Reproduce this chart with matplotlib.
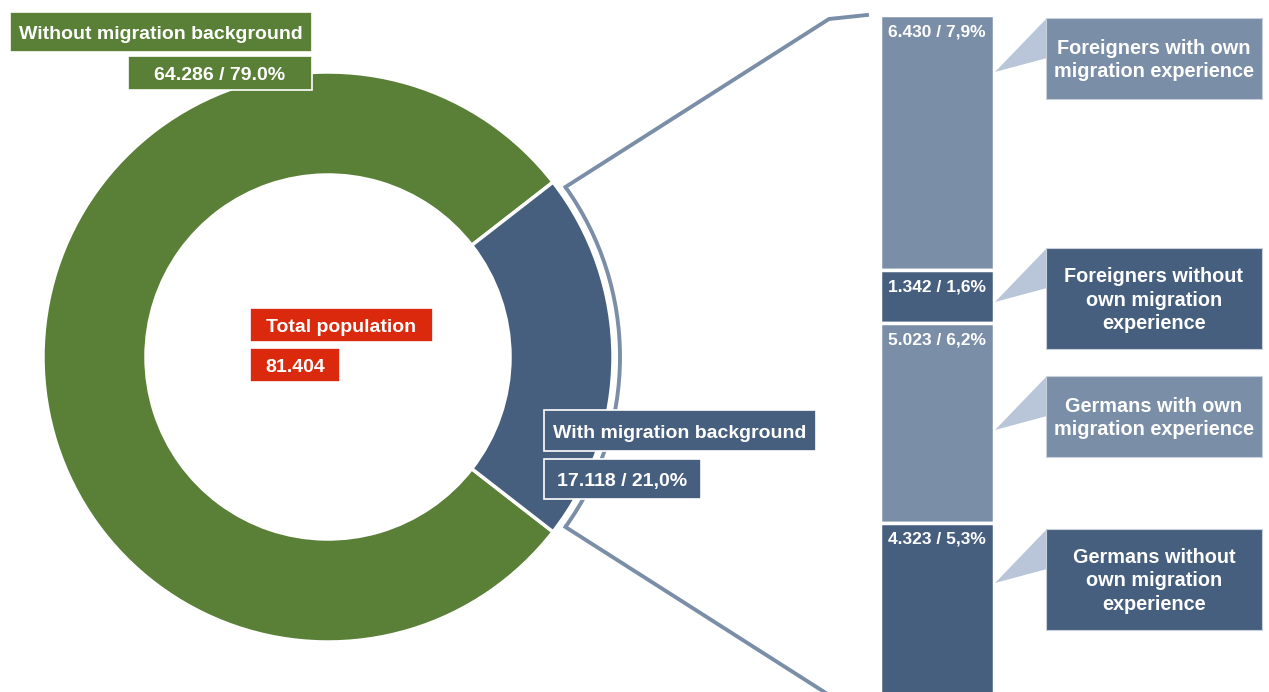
import numpy as np
import matplotlib.pyplot as plt
from matplotlib.patches import Rectangle, Polygon, Arc

plt.rcParams.update({
    "font.family": ["Liberation Sans", "DejaVu Sans"],
    "font.weight": "bold",
})

# data (thousands)
total_population = 81404
donut_labels = ["Without migration background", "With migration background"]
donut_values = [64286, 17118]
donut_shares = ["79.0%", "21,0%"]

bar_labels = ["Foreigners with own\nmigration experience",
              "Foreigners without\nown migration\nexperience",
              "Germans with own\nmigration experience",
              "Germans without\nown migration\nexperience"]
bar_values = [6430, 1342, 5023, 4323]
bar_shares = ["7,9%", "1,6%", "6,2%", "5,3%"]

GREEN = "#5a8038"
DARK = "#475f7f"
LIGHT = "#7b8ea8"
POINTER = "#b9c6da"
RED = "#da290c"
bar_colors = [LIGHT, DARK, LIGHT, DARK]

W, H = 1269, 692
fig = plt.figure(figsize=(W / 100, H / 100), dpi=100)
ax = fig.add_axes([0, 0, 1, 1])

# donut, blue wedge centred on the right
cx, cy, R = 328, 357, 285
start = 180 * donut_values[1] / sum(donut_values)
ax.pie(donut_values, colors=[GREEN, DARK], center=(cx, cy), radius=R,
       startangle=start, counterclock=True,
       wedgeprops=dict(width=103, edgecolor="white", linewidth=2.5))
ax.set_xlim(0, W)
ax.set_ylim(H, 0)
ax.set_aspect("equal")
ax.axis("off")

# bracket from the blue wedge to the bar
rb = 292
ang = 35.6
ax.add_patch(Arc((cx, cy), 2 * rb, 2 * rb, theta1=-ang, theta2=ang,
                 color=LIGHT, lw=2.8, zorder=3))
tx = cx + rb * np.cos(np.radians(ang))
ty = rb * np.sin(np.radians(ang))
ax.plot([tx, 829, 867], [cy - ty, 19, 15], color=LIGHT, lw=2.8,
        solid_joinstyle="miter", zorder=3)
ax.plot([tx, 829, 867], [cy + ty, 695, 697], color=LIGHT, lw=2.8,
        solid_joinstyle="miter", zorder=3)


def label_box(x0, y0, x1, y1, text, color, size=14):
    ax.add_patch(Rectangle((x0, y0), x1 - x0, y1 - y0, facecolor=color,
                           edgecolor="white", lw=1.2, zorder=5))
    ax.text((x0 + x1) / 2, (y0 + y1) / 2 + 2.5, text, color="white",
            fontsize=size, fontweight="bold", ha="center", va="center",
            zorder=6)


label_box(10, 12, 312, 52, donut_labels[0], GREEN)
label_box(128, 56, 312, 90, f"{donut_values[0] / 1000:.3f} / {donut_shares[0]}", GREEN)
label_box(250, 308, 433, 342, "Total population", RED)
label_box(250, 348, 340, 382, f"{total_population / 1000:.3f}", RED)
label_box(544, 410, 816, 451, donut_labels[1], DARK)
label_box(544, 459, 701, 499, f"{donut_values[1] / 1000:.3f} / {donut_shares[1]}", DARK)

# stacked bar on its own axes
bax = fig.add_axes([880 / W, 1 - 694 / H, 114 / W, 679 / H])
bottoms = np.concatenate([[0], np.cumsum(bar_values)[:-1]])
bax.bar(0, bar_values, bottom=bottoms, width=1, color=bar_colors,
        edgecolor="white", linewidth=2.5)
bax.set_xlim(-0.5, 0.5)
bax.set_ylim(sum(bar_values), 0)
bax.axis("off")
for b, v, s in zip(bottoms, bar_values, bar_shares):
    bax.annotate(f"{v / 1000:.3f} / {s}", xy=(0, b), xytext=(0, -6.5),
                 textcoords="offset points", ha="center", va="top",
                 color="white", fontsize=12.5, fontweight="bold")

# callout boxes with pointers
boxes = [(18, 99), (248, 349), (376, 457), (529, 630)]
tips = [72, 302, 430, 583]
for (y0, y1), tip, txt, col in zip(boxes, tips, bar_labels, bar_colors):
    ax.add_patch(Polygon([(1047, y0), (1047, y0 + 40), (995, tip)],
                         closed=True, facecolor=POINTER, edgecolor="none",
                         zorder=4))
    ax.add_patch(Rectangle((1046, y0), 216, y1 - y0, facecolor=col,
                           edgecolor="#c8d0dc", lw=0.8, zorder=5))
    ax.text(1154, (y0 + y1) / 2 + 1.5, txt, color="white", fontsize=14.3,
            fontweight="bold", ha="center", va="center", linespacing=1.3,
            zorder=6)

fig.savefig("out.png", dpi=100)
